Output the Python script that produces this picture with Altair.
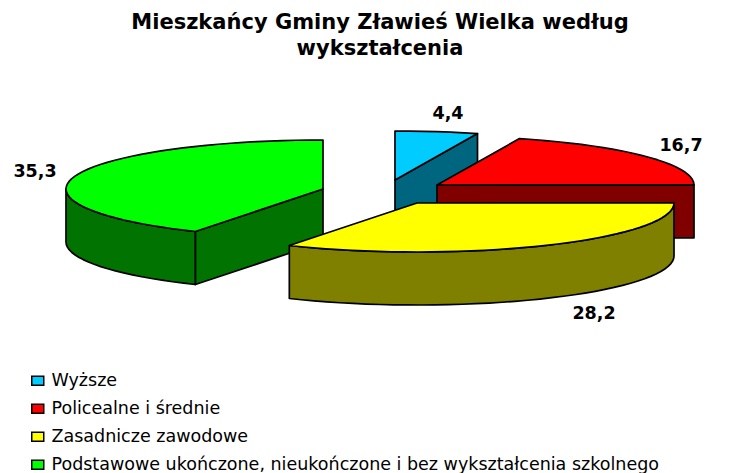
import math
import altair as alt

title_lines = ["Mieszkańcy Gminy Zławieś Wielka według", "wykształcenia"]
categories = ["Wyższe", "Policealne i średnie", "Zasadnicze zawodowe",
              "Podstawowe ukończone, nieukończone i bez wykształcenia szkolnego"]
values = [4.4, 16.7, 28.2, 35.3]
top_colors = ["#00CCFF", "#FF0000", "#FFFF00", "#00FF00"]
wall_colors = ["#006680", "#800000", "#808000", "#007300"]

# layout of the exploded slices (plot pixels)
centers = [(387, 172), (429, 177), (409, 195), (315, 181)]
label_pos = [(440, 106), (673, 138), (586, 306), (27, 164)]
RX, RY, DEPTH = 257, 49, 53

total = sum(values)
angles = []
acc = 0.0
for v in values:
    angles.append((acc, acc + v / total * 360))
    acc += v / total * 360


def pt(c, deg, dz=0):
    r = math.radians(deg)
    return [c[0] + RX * math.sin(r), c[1] - RY * math.cos(r) + dz]


def arc(c, a0, a1, dz=0):
    n = max(2, int(abs(a1 - a0) / 3))
    return [pt(c, a0 + (a1 - a0) * i / n, dz) for i in range(n + 1)]


def feature(ring, **props):
    ring = [list(p) for p in ring] + [list(ring[0])]
    return {"type": "Feature", "properties": props,
            "geometry": {"type": "Polygon", "coordinates": [ring]}}


walls = []
tops = []
for i, cat in enumerate(categories):
    c = centers[i]
    a0, a1 = angles[i]
    down = [c[0], c[1] + DEPTH]
    pieces = []
    # cut face on the start edge, visible when it lies on the left half
    if a0 > 180:
        e = pt(c, a0)
        pieces.append([c, e, [e[0], e[1] + DEPTH], down])
    # cut face on the end edge, visible when it lies on the right half
    if a1 < 180:
        e = pt(c, a1)
        pieces.append([c, e, [e[0], e[1] + DEPTH], down])
    # rim: the part of the outer wall that faces the viewer
    r0, r1 = max(a0, 90), min(a1, 270)
    if r1 > r0:
        pieces.append(arc(c, r0, r1) + arc(c, r1, r0, DEPTH))
    walls.append(pieces)
    tops.append(feature([c] + arc(c, a0, a1), cat=cat))

projection = dict(type="identity", scale=1, translate=[0, 0])


def wall_layer(i):
    data = alt.Data(values=[feature(p, part=j) for j, p in enumerate(walls[i])])
    return alt.Chart(data).mark_geoshape(
        fill=wall_colors[i], stroke="black", strokeWidth=1.7, strokeJoin="round"
    ).project(**projection)


def top_layer(i):
    return alt.Chart(alt.Data(values=[tops[i]])).mark_geoshape(
        stroke="black", strokeWidth=1.7, strokeJoin="round"
    ).encode(
        fill=alt.Fill(
            "properties.cat:N",
            scale=alt.Scale(domain=categories, range=top_colors),
            sort=categories,
            legend=alt.Legend(
                title=None, orient="none", legendX=21, legendY=364,
                symbolType="M-1.2,-0.9H1.2V0.9H-1.2Z", symbolSize=100,
                symbolStrokeColor="black", symbolStrokeWidth=1.5,
                labelFont="DejaVu Sans", labelFontSize=17.5, labelColor="black",
                labelLimit=720, rowPadding=9, symbolOffset=0, labelOffset=5,
            ),
        )
    ).project(**projection)


layers = []
for i in [3, 0, 1, 2]:
    layers.append(wall_layer(i))
    layers.append(top_layer(i))

text_rows = [
    {"label": f"{v:.1f}".replace(".", ","), "lon": p[0], "lat": p[1]}
    for v, p in zip(values, label_pos)
]
labels = alt.Chart(alt.Data(values=text_rows)).mark_text(
    font="DejaVu Sans", fontSize=17.5, fontWeight="bold", color="black",
    align="center", baseline="middle",
).encode(
    longitude="lon:Q", latitude="lat:Q", text="label:N"
).project(**projection)
layers.append(labels)

chart = alt.layer(*layers).properties(
    width=726, height=465, padding=0, autosize=alt.AutoSizeParams(type="none"),
    title=alt.Title(
        text=title_lines, font="DejaVu Sans", fontSize=21, fontWeight="bold",
        color="black", anchor="middle", dx=9, dy=55, lineHeight=26,
    ),
).configure_view(stroke=None)

chart.save("out.html", embed_options={"renderer": "svg", "actions": False})
